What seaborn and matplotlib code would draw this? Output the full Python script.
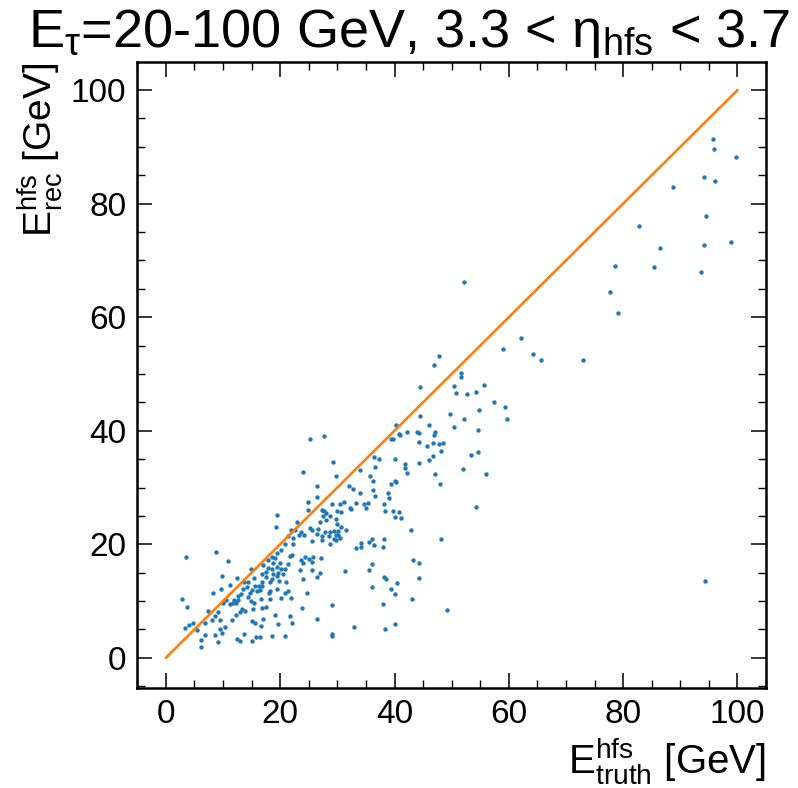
import numpy as np
import pandas as pd
import matplotlib
matplotlib.use("Agg")
import matplotlib.pyplot as plt
import seaborn as sns
from matplotlib.ticker import MultipleLocator

# ---- data ----
# high-energy tail (E_truth > 55 GeV)
tail_truth = [95.8, 95.9, 99.8, 94.1, 96.1, 88.8, 94.5, 82.8, 86.4, 94.2, 98.8, 78.5, 85.4, 93.7,
              77.7, 79.1, 62.1, 59.0, 64.3, 65.6, 73.0, 55.6, 57.4, 59.3, 59.7, 52.2, 94.4]
tail_rec = [91.4, 89.6, 88.2, 84.7, 83.9, 83.0, 77.9, 76.1, 72.2, 72.8, 73.2, 69.0, 68.8, 68.0,
            64.4, 60.7, 56.3, 54.4, 53.6, 52.4, 52.4, 48.1, 45.0, 44.2, 42.0, 66.2, 13.5]

# middle region (E_truth ~ 29-56 GeV)
mid_truth = [47.7, 46.9, 51.7, 51.7, 44.4, 50.4, 50.7, 52.6, 54.2, 54.7, 49.7, 52.2, 44.4, 40.3, 46.1,
             54.6, 50.4, 44.3, 40.8, 41.0, 42.1, 43.9, 39.3, 39.7, 47.1, 46.9, 44.3, 45.7, 46.7, 47.8,
             48.5, 48.2, 54.6, 53.4, 36.4, 37.3, 40.0, 46.7, 46.1, 44.3, 41.8, 41.8, 42.1, 36.6, 34.0,
             35.8, 36.2, 29.3, 29.7, 51.9, 56.0, 47.1, 47.9, 40.0, 40.3, 39.4, 36.2, 36.6, 38.9, 39.1,
             32.0, 32.8, 34.0, 54.2, 31.1, 30.4, 33.3, 34.6, 35.4, 35.0, 32.2, 32.4, 38.2, 29.0, 38.3,
             39.7, 40.7, 29.9, 30.7, 40.0, 41.1, 29.7, 30.0, 30.7, 31.6, 42.9, 29.4, 30.1, 29.7, 30.1,
             30.4, 29.5, 29.8, 36.0, 38.2, 35.6, 34.2, 36.4, 34.2, 33.2, 38.0, 48.2, 43.3, 44.2, 36.0,
             35.6, 31.4, 44.3, 38.2, 38.5, 40.5, 36.1, 39.3, 40.0, 43.1, 38.0, 29.1, 49.2, 32.9, 38.4,
             40.0]
mid_rec = [53.2, 51.6, 50.1, 49.4, 47.7, 47.9, 46.7, 46.5, 46.9, 43.6, 43.0, 42.0, 42.6, 41.0, 41.0,
           40.1, 40.7, 39.6, 39.4, 39.2, 39.7, 39.8, 38.5, 38.5, 39.7, 39.3, 38.1, 37.3, 37.8, 37.7,
           37.9, 36.5, 36.3, 35.8, 35.3, 35.0, 35.0, 35.6, 34.9, 34.4, 34.2, 33.4, 32.5, 33.6, 33.0,
           32.0, 31.2, 34.5, 32.0, 33.2, 32.4, 32.3, 30.7, 31.1, 30.9, 30.6, 29.5, 28.5, 29.1, 28.1,
           30.2, 29.7, 29.1, 26.6, 27.5, 27.1, 27.2, 27.1, 27.3, 26.4, 26.4, 26.2, 27.1, 27.1, 25.8,
           25.8, 25.6, 25.8, 25.6, 24.8, 24.6, 24.5, 23.6, 23.1, 22.5, 22.6, 22.3, 22.3, 21.7, 21.6,
           21.1, 21.0, 20.8, 20.9, 20.9, 20.4, 20.2, 19.9, 19.5, 19.3, 19.5, 20.9, 17.3, 16.7, 16.6,
           15.4, 15.3, 14.1, 14.2, 13.9, 13.2, 12.4, 12.2, 11.3, 10.3, 9.5, 9.3, 8.5, 5.5, 5.1,
           6.0]

# low-energy region (E_truth < 18.5 GeV)
low_truth = [3.5, 8.8, 10.9, 9.8, 12.5, 14.9, 17.0, 17.8, 17.9, 17.5, 16.9, 17.5, 15.4, 13.7, 11.3,
             9.7, 8.3, 2.8, 3.7, 7.3, 10.0, 11.2, 12.0, 12.7, 13.1, 13.5, 14.2, 15.0, 15.6, 16.3,
             16.8, 16.5, 15.9, 14.7, 14.3, 14.9, 15.5, 16.6, 18.1, 12.7, 12.2, 11.7, 10.6, 13.4, 13.0,
             12.3, 11.5, 13.8, 15.3, 16.8, 8.6, 9.2, 9.5, 10.3, 9.5, 9.8, 8.0, 6.9, 5.5, 4.8,
             4.0, 3.4, 6.1, 6.2, 9.1, 6.9, 8.6, 12.4, 12.9, 13.6, 15.1, 15.6, 15.0, 15.8, 16.5,
             16.6, 17.0, 18.3, 17.6, 18.3, 14.4, 16.8, 18.3]
low_rec = [17.7, 18.7, 17.1, 14.4, 14.1, 15.6, 16.4, 17.2, 15.8, 15.1, 14.7, 14.3, 14.1, 13.3, 12.8,
           12.1, 11.4, 10.3, 8.9, 8.3, 9.7, 9.4, 10.2, 10.9, 11.2, 12.1, 12.4, 12.0, 12.6, 12.7,
           12.6, 12.0, 11.7, 11.4, 10.8, 10.0, 9.6, 10.3, 11.4, 10.2, 9.6, 9.6, 10.2, 8.6, 8.0,
           7.6, 6.7, 8.2, 8.6, 8.7, 7.3, 8.0, 6.7, 5.5, 5.0, 4.3, 6.7, 6.1, 4.9, 6.2,
           5.8, 5.2, 3.2, 1.9, 2.8, 4.0, 4.0, 3.3, 3.0, 4.2, 6.5, 6.2, 3.0, 3.6, 3.6,
           5.6, 6.8, 11.7, 9.0, 10.3, 13.4, 13.4, 13.4]

# region E_truth ~ 18-29 GeV
edge_truth = [20.8, 22.3, 25.5, 27.3, 28.7, 20.2, 19.4, 18.5, 19.1, 18.8, 19.9, 21.7, 22.1, 21.4, 18.5,
              19.4, 20.2, 20.8, 18.8, 19.7, 20.5, 18.5, 19.4, 21.1, 19.8, 23.6, 24.3, 24.0, 25.0, 25.8,
              25.6, 27.2, 23.4, 25.6, 24.0, 26.5, 26.9, 19.4, 20.8, 21.4, 20.2, 21.9, 24.7, 23.8, 19.1,
              21.7, 26.5, 19.7, 22.1, 18.6, 20.9, 29.1, 29.1,
              25.3, 27.7, 24.0, 26.5, 24.8, 26.5, 24.9, 19.5, 19.2, 23.0, 27.3, 27.6, 28.1, 28.8, 27.5,
              28.1, 26.9, 21.9, 22.6, 23.6, 24.2, 25.2, 25.5, 26.6, 27.8, 27.3, 28.6, 28.7, 23.3, 26.4,
              21.3, 22.3]
edge_rec = [20.1, 20.1, 20.5, 20.7, 20.1, 19.0, 18.4, 17.8, 17.5, 16.7, 16.7, 18.0, 18.1, 16.5, 15.6,
            16.0, 15.6, 15.6, 14.8, 14.9, 14.7, 13.8, 14.4, 13.4, 13.5, 17.3, 17.7, 16.7, 17.4, 17.7,
            16.9, 17.5, 15.4, 15.5, 13.8, 14.3, 14.9, 12.1, 11.4, 11.7, 10.5, 10.5, 11.4, 8.7, 7.6,
            7.4, 6.9, 6.0, 6.2, 3.9, 3.9, 4.2, 3.8,
            38.5, 39.1, 32.7, 30.3, 27.5, 28.3, 26.1, 25.2, 23.0, 24.0, 26.1, 25.8, 25.5, 24.9, 24.9,
            24.3, 24.0, 22.5, 22.5, 22.1, 21.7, 22.8, 22.5, 22.7, 22.2, 21.5, 21.5, 22.1, 21.7, 21.8,
            21.4, 21.1]

# diagonal reference line E_rec = E_truth
diag_x = [0, 100]
diag_y = [0, 100]

x_ticks = [0, 20, 40, 60, 80, 100]
y_ticks = [0, 20, 40, 60, 80, 100]

df = pd.DataFrame({
    "truth": tail_truth + mid_truth + low_truth + edge_truth,
    "rec": tail_rec + mid_rec + low_rec + edge_rec,
})
line_df = pd.DataFrame({"x": diag_x, "y": diag_y})

sns.set_theme(style="ticks")
plt.rcParams["font.family"] = ["Liberation Sans", "DejaVu Sans"]
plt.rcParams["mathtext.fontset"] = "custom"
plt.rcParams["mathtext.rm"] = "Liberation Sans"
plt.rcParams["mathtext.it"] = "Liberation Sans:italic"
plt.rcParams["mathtext.bf"] = "Liberation Sans:bold"
plt.rcParams["text.color"] = "black"
plt.rcParams["axes.labelcolor"] = "black"
plt.rcParams["xtick.color"] = "black"
plt.rcParams["ytick.color"] = "black"

fig = plt.figure(figsize=(7.98, 7.88), dpi=100)
ax = fig.add_axes([0.172, 0.127, 0.788, 0.794])

sns.scatterplot(data=df, x="truth", y="rec", ax=ax, s=10, color="#1f77b4",
                linewidth=0, legend=False)
sns.lineplot(data=line_df, x="x", y="y", ax=ax, color="#ff7f0e", linewidth=1.9)

ax.set_xlim(-5, 105)
ax.set_ylim(-5.3, 104.9)
ax.set_xticks(x_ticks)
ax.set_yticks(y_ticks)
ax.xaxis.set_minor_locator(MultipleLocator(5))
ax.yaxis.set_minor_locator(MultipleLocator(5))
ax.tick_params(which="both", direction="in", top=True, right=True, labelsize=24, pad=8,
               colors="black")
ax.tick_params(which="major", length=11, width=1.1)
ax.tick_params(which="minor", length=5.5, width=1.0)
for sp in ax.spines.values():
    sp.set_linewidth(1.8)
    sp.set_color("black")

ax.set_xlabel(r"$\mathrm{E^{hfs}_{truth}}$ [GeV]", fontsize=29, loc="right")
ax.set_ylabel(r"$\mathrm{E^{hfs}_{rec}}$ [GeV]", fontsize=28, loc="top")
fig.text(0.513, 0.957, r"$\mathrm{E_{\tau}}$=20-100 GeV, 3.3 < $\mathrm{\eta_{hfs}}$ < 3.7",
         fontsize=39, ha="center", va="center")

fig.savefig("out.png", dpi=100)
